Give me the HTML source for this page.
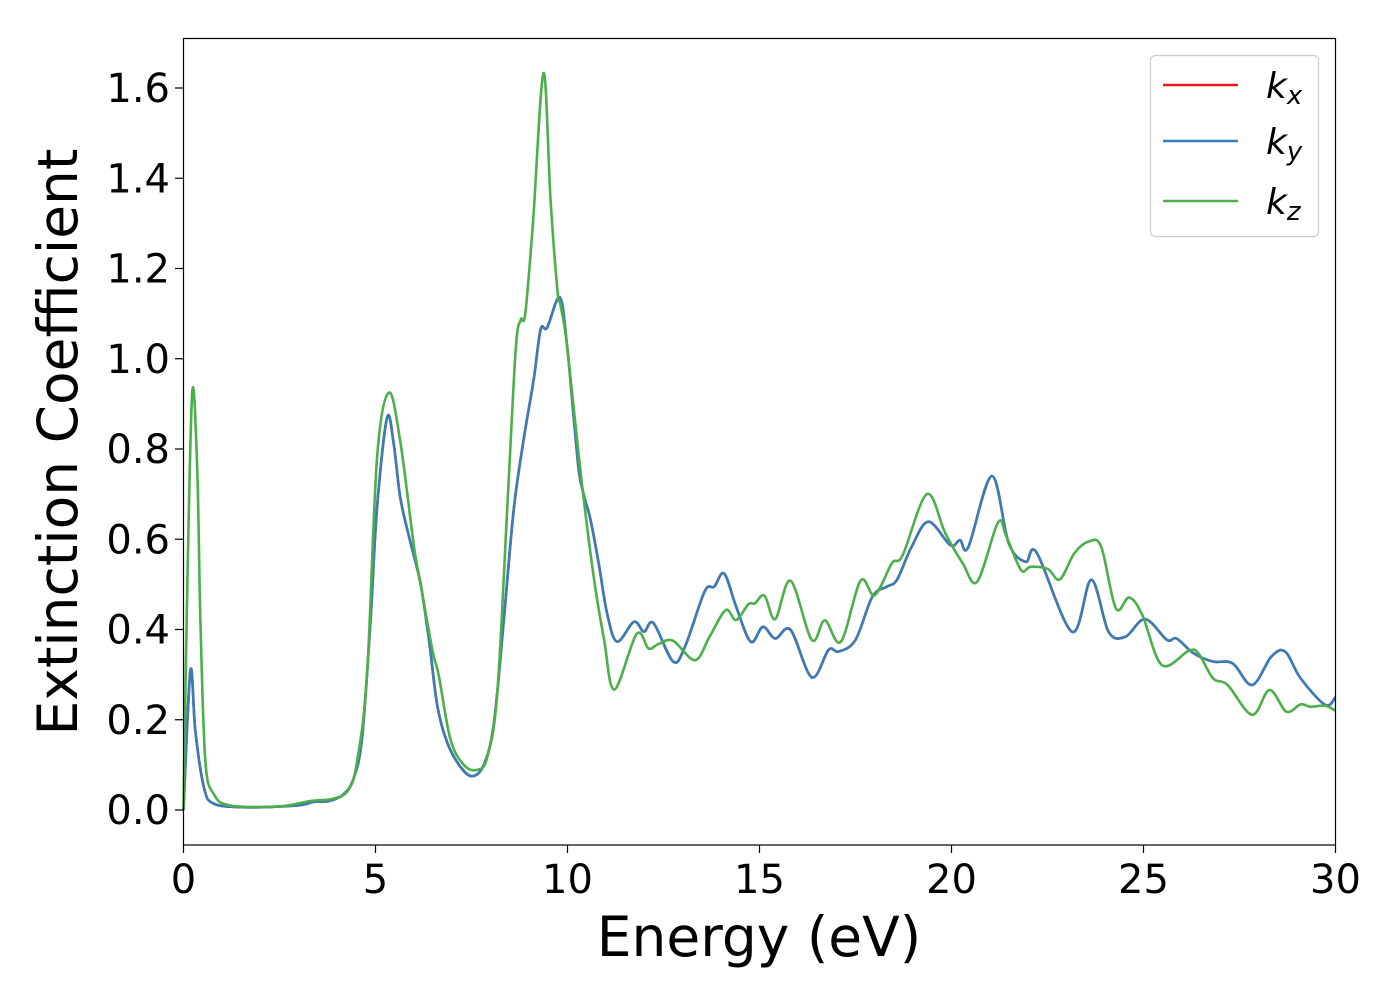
<!DOCTYPE html>
<html><head><meta charset="utf-8">
<style>
html,body{margin:0;padding:0;background:#fff;}
svg{display:block;font-family:"DejaVu Sans","Liberation Sans",sans-serif;}
</style></head>
<body>
<svg id="chart" width="1400" height="1000" viewBox="0 0 1400 1000" xmlns="http://www.w3.org/2000/svg">
<rect x="0" y="0" width="1400" height="1000" fill="#fff"/>
<g id="series"></g>
<rect x="183.5" y="38.5" width="1152" height="806.5" fill="none" stroke="#000" stroke-width="1.2"/>
<g id="xticks"></g>
<g id="yticks"></g>
<text x="759" y="956" font-size="55" text-anchor="middle">Energy (eV)</text>
<text transform="translate(77,442) rotate(-90)" font-size="55" text-anchor="middle">Extinction Coefficient</text>
<g>
<rect x="1150.5" y="55.5" width="168" height="181" rx="5" fill="#fff" fill-opacity="0.8" stroke="#ccc" stroke-width="1.2"/>
<line x1="1163" y1="85" x2="1238" y2="85" stroke="#e41a1c" stroke-width="2.6"/>
<line x1="1163" y1="141" x2="1238" y2="141" stroke="#377eb8" stroke-width="2.6"/>
<line x1="1163" y1="201" x2="1238" y2="201" stroke="#4daf4a" stroke-width="2.6"/>
<text x="1266" y="98" font-size="36" font-style="italic">k<tspan font-size="26" dy="6">x</tspan></text>
<text x="1266" y="154" font-size="36" font-style="italic">k<tspan font-size="26" dy="6">y</tspan></text>
<text x="1266" y="214" font-size="36" font-style="italic">k<tspan font-size="26" dy="6">z</tspan></text>
</g>
</svg>
<script>
const xTicks = [0, 5, 10, 15, 20, 25, 30];
const yTicks = [0.0, 0.2, 0.4, 0.6, 0.8, 1.0, 1.2, 1.4, 1.6];
const energyXY = [0,0.18,0.31,0.53,0.79,1.66,2.96,3.39,3.8,4.17,4.43,4.65,4.87,5.04,5.3,5.47,5.65,5.91,6.17,6.39,6.61,6.87,7.21,7.52,7.82,8.08,8.34,8.6,8.86,9.12,9.3,9.47,9.8,9.99,10.16,10.3,10.43,10.6,10.82,11.03,11.29,11.73,11.99,12.24,12.75,13.06,13.57,13.82,14.08,14.39,14.77,15.09,15.41,15.81,16.36,16.8,17.06,17.5,17.94,18.32,18.58,18.96,19.4,19.97,20.22,20.44,21.05,21.49,21.93,22.22,23.14,23.64,24.09,24.53,25.04,25.61,25.86,26.31,26.81,27.32,27.83,28.33,28.69,29.09,29.73,30];
const kxValues = [0,0.309,0.174,0.051,0.014,0.006,0.01,0.018,0.02,0.035,0.07,0.16,0.42,0.67,0.869,0.814,0.69,0.593,0.503,0.379,0.231,0.149,0.096,0.075,0.1,0.19,0.42,0.666,0.822,0.954,1.065,1.069,1.136,1.028,0.872,0.749,0.696,0.643,0.543,0.436,0.373,0.417,0.395,0.414,0.329,0.362,0.484,0.495,0.524,0.451,0.373,0.406,0.38,0.399,0.294,0.355,0.351,0.377,0.473,0.495,0.51,0.583,0.639,0.587,0.598,0.583,0.74,0.591,0.55,0.57,0.395,0.51,0.395,0.384,0.423,0.377,0.38,0.347,0.329,0.325,0.277,0.34,0.351,0.292,0.233,0.25];
const kyValues = kxValues.slice();
const energyZ = [0,0.1,0.23,0.36,0.44,0.57,0.79,1.22,2.5,3.3,3.9,4.3,4.52,4.78,5.04,5.35,5.65,6.0,6.17,6.48,6.65,6.95,7.3,7.65,7.91,8.17,8.43,8.65,8.78,8.9,9.1,9.375,9.56,9.74,9.82,9.99,10.34,10.68,10.95,11.22,11.8,12.11,12.37,12.75,13.32,13.7,14.12,14.39,14.71,14.88,15.13,15.41,15.81,16.36,16.7,17.12,17.63,18.0,18.45,18.73,19.36,19.84,20.29,20.67,21.21,21.43,21.81,22.06,22.51,22.82,23.2,23.58,23.9,24.28,24.63,24.97,25.48,26.18,26.43,26.81,27.19,27.83,28.28,28.72,29.09,29.35,29.73,30];
const kzValues = [0,0.5,0.929,0.75,0.42,0.108,0.035,0.01,0.008,0.02,0.025,0.045,0.108,0.3,0.78,0.925,0.814,0.585,0.503,0.355,0.297,0.157,0.1,0.089,0.117,0.257,0.667,1.019,1.086,1.1,1.3,1.633,1.35,1.15,1.118,1.028,0.749,0.518,0.379,0.267,0.39,0.358,0.368,0.375,0.332,0.384,0.443,0.421,0.456,0.458,0.475,0.423,0.508,0.377,0.42,0.373,0.508,0.476,0.547,0.565,0.7,0.613,0.547,0.506,0.637,0.606,0.532,0.539,0.534,0.511,0.569,0.595,0.583,0.447,0.471,0.432,0.321,0.353,0.347,0.292,0.277,0.211,0.266,0.218,0.234,0.229,0.231,0.22];

const X0 = 183.5, X1 = 1335.5, XMIN = 0, XMAX = 30;
const Y0val = 810, YPER = 451.25;
function xScale(v){ return X0 + (v - XMIN) / (XMAX - XMIN) * (X1 - X0); }
function yScale(v){ return Y0val - v * YPER; }
const NS = "http://www.w3.org/2000/svg";

function pathFor(xs, ys){
  const p = xs.map((x,i)=>[xScale(x), yScale(ys[i])]);
  let d = "M" + p[0][0].toFixed(2) + "," + p[0][1].toFixed(2);
  for (let i=0;i<p.length-1;i++){
    const a = p[Math.max(i-1,0)], b = p[i], c = p[i+1], e = p[Math.min(i+2,p.length-1)];
    const t = 6;
    const c1 = [b[0]+(c[0]-a[0])/t, b[1]+(c[1]-a[1])/t];
    const c2 = [c[0]-(e[0]-b[0])/t, c[1]-(e[1]-b[1])/t];
    d += " C"+c1[0].toFixed(2)+","+c1[1].toFixed(2)+" "+c2[0].toFixed(2)+","+c2[1].toFixed(2)+" "+c[0].toFixed(2)+","+c[1].toFixed(2);
  }
  return d;
}

const series = document.getElementById("series");
function addLine(xs, ys, color, name){
  const el = document.createElementNS(NS, "path");
  el.setAttribute("d", pathFor(xs, ys));
  el.setAttribute("fill", "none");
  el.setAttribute("stroke", color);
  el.setAttribute("stroke-width", "2.6");
  el.setAttribute("stroke-linejoin", "round");
  
  
  series.appendChild(el);
}
addLine(energyXY, kxValues, "#e41a1c", "line-kx");
addLine(energyXY, kyValues, "#377eb8", "line-ky");
addLine(energyZ, kzValues, "#4daf4a", "line-kz");

const xg = document.getElementById("xticks");
xTicks.forEach(t=>{
  const x = xScale(t);
  const ln = document.createElementNS(NS, "line");
  ln.setAttribute("x1", x); ln.setAttribute("x2", x);
  ln.setAttribute("y1", 845); ln.setAttribute("y2", 853);
  ln.setAttribute("stroke", "#000"); ln.setAttribute("stroke-width", "1.2");
  
  
  xg.appendChild(ln);
  const tx = document.createElementNS(NS, "text");
  tx.setAttribute("x", x); tx.setAttribute("y", 893);
  tx.setAttribute("font-size", "40"); tx.setAttribute("text-anchor", "middle");
  tx.textContent = String(t);
  
  
  xg.appendChild(tx);
});
const yg = document.getElementById("yticks");
yTicks.forEach(t=>{
  const y = yScale(t);
  const ln = document.createElementNS(NS, "line");
  ln.setAttribute("x1", 175); ln.setAttribute("x2", 183.5);
  ln.setAttribute("y1", y); ln.setAttribute("y2", y);
  ln.setAttribute("stroke", "#000"); ln.setAttribute("stroke-width", "1.2");
  
  
  yg.appendChild(ln);
  const tx = document.createElementNS(NS, "text");
  tx.setAttribute("x", 170); tx.setAttribute("y", y + 14);
  tx.setAttribute("font-size", "40"); tx.setAttribute("text-anchor", "end");
  tx.textContent = t.toFixed(1);
  
  
  yg.appendChild(tx);
});
</script>
</body></html>
